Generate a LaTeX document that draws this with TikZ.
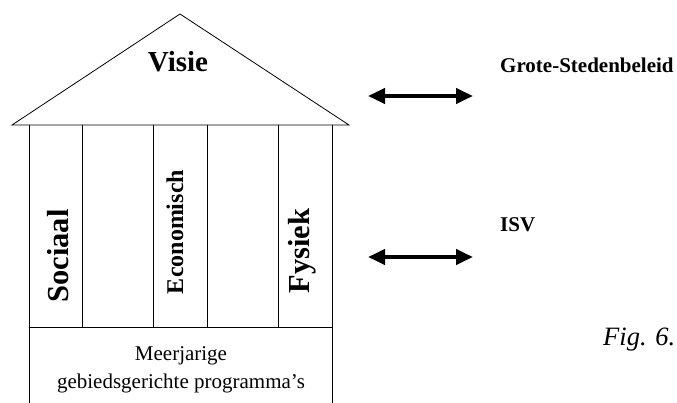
\documentclass[tikz,border=0pt]{standalone}
\usepackage{fontspec}
\setmainfont{Liberation Serif}
\usetikzlibrary{arrows.meta}
\begin{document}
\begin{tikzpicture}[x=1pt,y=-1pt]
	\tikzstyle{wall} = [line width=0.8pt]
	\tikzstyle{pillar} = [rotate=90, anchor=base, inner sep=0pt, font=\bfseries\fontsize{30.5}{30.5}\selectfont]
	\tikzstyle{tagtext} = [anchor=base west, inner sep=0pt, font=\bfseries\fontsize{21}{21}\selectfont]
	\tikzstyle{link} = [line width=4pt, {Triangle[length=17pt,width=15pt]}-{Triangle[length=17pt,width=15pt]}]
	\useasboundingbox (0,0) rectangle (677,403);
	\coordinate (roofL) at (12,125);
	\coordinate (roofT) at (180,14);
	\coordinate (roofR) at (349,125);
	\draw[wall] (roofL) -- (roofT) -- (roofR) -- cycle;
	\foreach \x in {82,153,207,278}
		\draw[wall] (\x,125) -- (\x,327);
	\draw[wall] (29,403) -- (29,125);
	\draw[wall] (332,403) -- (332,125);
	\draw[wall] (29,327) -- (332,327);
	\node[anchor=base, inner sep=0pt, font=\bfseries\fontsize{29}{29}\selectfont] (visie) at (178,72) {Visie};
	\node[pillar] (sociaal) at (68,256) {Sociaal};
	\node[pillar, font=\bfseries\fontsize{24}{24}\selectfont] (economisch) at (183,232) {Economisch};
	\node[pillar] (fysiek) at (309,251) {Fysiek};
	\node[align=center, inner sep=0pt, font=\fontsize{21}{28}\selectfont] (fundament) at (181,370)
		{Meerjarige\\gebiedsgerichte programma’s};
	\node[tagtext] (gsb) at (500,73) {Grote-Stedenbeleid};
	\node[tagtext] (isv) at (500,232) {ISV};
	\coordinate (gsbL) at (368,96);
	\coordinate (gsbR) at (473,96);
	\coordinate (isvL) at (368,257);
	\coordinate (isvR) at (473,257);
	\draw[link] (gsbL) -- (gsbR);
	\draw[link] (isvL) -- (isvR);
	\node[anchor=base west, inner sep=0pt, font=\itshape\fontsize{26.5}{26.5}\selectfont] (fig) at (603,345) {Fig. 6.};
\end{tikzpicture}
\end{document}
